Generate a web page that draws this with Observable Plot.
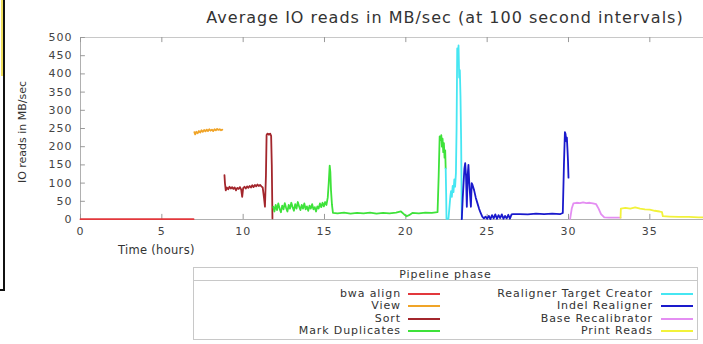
<!DOCTYPE html>
<html><head><meta charset="utf-8">
<script src="https://cdn.jsdelivr.net/npm/d3@7"></script>
<script src="https://cdn.jsdelivr.net/npm/@observablehq/plot@0.6"></script>
<style>
body{margin:0;background:#fff;}
#wrap{position:relative;width:703px;height:344px;overflow:hidden;font-family:"DejaVu Sans",sans-serif;color:#333;background:#fff;}
#title{position:absolute;left:190px;width:510px;top:8px;text-align:center;font-size:16px;letter-spacing:1px;color:#333;white-space:nowrap;}
#plot{position:absolute;left:0;top:28px;}
#ylab{position:absolute;left:22px;top:132px;transform:translate(-50%,-50%) rotate(-90deg);font-size:11px;white-space:nowrap;color:#333;}
#xlab{position:absolute;left:118px;top:243px;font-size:11.5px;letter-spacing:0.3px;white-space:nowrap;color:#333;}
#legend{position:absolute;left:193px;top:267px;width:505px;height:73px;border:1px solid #c8c8c8;box-sizing:border-box;font-size:11px;letter-spacing:0.9px;color:#333;}
#legend .lt{position:absolute;top:0;left:0;width:100%;text-align:center;line-height:13px;}
#legend .sep{position:absolute;top:12px;left:0;width:100%;border-top:1px solid #c8c8c8;}
#legend .lab{position:absolute;width:300px;text-align:right;line-height:12px;white-space:nowrap;}
#legend .sw{position:absolute;width:32px;height:0;border-top:2px solid;}
.art1{position:absolute;left:3px;top:0;width:2px;height:290px;background:#111;}
.art2{position:absolute;left:1px;top:0;width:2px;height:76px;background:#f0e060;}
.art3{position:absolute;left:0;top:289px;width:5px;height:2px;background:#111;}
</style></head><body><div id="wrap">
<div class="art2"></div><div class="art1"></div><div class="art3"></div>
<div id="title">Average IO reads in MB/sec (at 100 second intervals)</div>
<div id="plot"></div>
<div id="ylab">IO reads in MB/sec</div>
<div id="xlab">Time (hours)</div>
<div id="legend"></div>
</div>
<script>
const phases = ["bwa align","View","Sort","Mark Duplicates","Realigner Target Creator","Indel Realigner","Base Recalibrator","Print Reads"];
const phaseColors = ["#e2383c","#f0a428","#a3262c","#3ee23a","#46e6f2","#1a1acc","#e48ef2","#f2f23a"];
const xTicks = [0,5,10,15,20,25,30,35];
const yTicks = [0,50,100,150,200,250,300,350,400,450,500];

const bwaAlign = [[0,1],[1.5,1],[3,1],[4.5,1],[6,1],[6.95,1]];
const view = [[7.0,240],[7.05,234],[7.12,241],[7.2,237],[7.28,243],[7.36,239],[7.44,245],[7.52,241],[7.6,246],[7.68,242],[7.76,247],[7.84,243],[7.92,248],[8.0,244],[8.08,247],[8.16,243],[8.24,248],[8.32,245],[8.4,249],[8.48,246],[8.56,248],[8.64,245],[8.72,247]];
const sort = [[8.85,122],[8.88,100],[8.93,80],[9.0,88],[9.08,83],[9.16,90],[9.24,85],[9.32,89],[9.4,84],[9.48,88],[9.56,80],[9.64,87],[9.72,84],[9.8,89],[9.88,82],[9.94,62],[10.0,86],[10.08,90],[10.16,85],[10.24,91],[10.32,87],[10.4,92],[10.48,88],[10.56,94],[10.64,89],[10.72,95],[10.8,91],[10.88,96],[10.96,92],[11.04,95],[11.12,91],[11.2,88],[11.28,60],[11.34,35],[11.4,120],[11.44,232],[11.5,236],[11.58,233],[11.66,236],[11.72,230],[11.76,150],[11.8,3]];
const markDuplicates = [[11.85,35],[11.92,22],[12.0,40],[12.08,26],[12.16,44],[12.24,30],[12.32,20],[12.4,38],[12.48,28],[12.56,45],[12.64,32],[12.72,22],[12.8,40],[12.88,30],[12.96,46],[13.04,34],[13.12,24],[13.2,42],[13.28,30],[13.36,48],[13.44,36],[13.52,26],[13.6,40],[13.68,30],[13.76,44],[13.84,28],[13.92,36],[14.0,24],[14.08,38],[14.16,30],[14.24,42],[14.32,28],[14.4,34],[14.48,22],[14.56,36],[14.64,30],[14.72,44],[14.8,34],[14.88,46],[14.96,36],[15.04,48],[15.12,40],[15.2,60],[15.26,100],[15.32,148],[15.36,130],[15.4,80],[15.46,40],[15.52,18],[15.8,17],[16.2,19],[16.6,16],[17.0,18],[17.4,17],[17.8,19],[18.2,16],[18.6,18],[19.0,17],[19.4,19],[19.7,22],[19.9,14],[20.05,9],[20.2,12],[20.4,18],[20.8,17],[21.2,19],[21.6,18],[21.95,20],[22.02,120],[22.08,228],[22.14,218],[22.18,232],[22.22,200],[22.26,222],[22.3,185],[22.34,210],[22.38,170],[22.42,190],[22.45,140]];
const realignerTargetCreator = [[22.45,140],[22.48,70],[22.5,2],[22.62,2],[22.74,65],[22.78,78],[22.83,62],[22.88,92],[22.93,75],[22.98,110],[23.03,90],[23.08,128],[23.12,250],[23.16,470],[23.2,430],[23.24,478],[23.28,390],[23.32,410],[23.36,340],[23.4,220],[23.44,2]];
const indelRealigner = [[23.44,1],[23.5,60],[23.6,140],[23.65,155],[23.7,120],[23.75,35],[23.8,120],[23.85,150],[23.9,100],[24.0,35],[24.05,100],[24.1,95],[24.2,80],[24.3,60],[24.4,45],[24.5,30],[24.6,18],[24.7,8],[24.8,3],[24.9,8],[25.0,2],[25.1,10],[25.2,1],[25.3,12],[25.4,3],[25.5,14],[25.6,2],[25.7,12],[25.8,4],[25.9,14],[26.0,2],[26.1,10],[26.2,3],[26.3,13],[26.4,2],[26.5,14],[26.6,15],[27,15],[27.5,14],[28,16],[28.5,15],[29,16],[29.5,15],[29.65,18],[29.72,150],[29.78,240],[29.82,235],[29.86,215],[29.9,225],[29.94,190],[29.97,160],[30.0,115]];
const baseRecalibrator = [[30.1,2],[30.2,30],[30.3,44],[30.5,46],[30.7,45],[30.9,47],[31.1,45],[31.3,46],[31.5,44],[31.7,42],[31.85,30],[32.0,15],[32.2,6],[32.5,5],[33.0,5],[33.2,5]];
const printReads = [[33.2,5],[33.22,30],[33.5,32],[33.8,30],[34.1,33],[34.4,30],[34.7,28],[35.0,27],[35.3,24],[35.6,22],[35.75,20],[35.8,9],[36.2,8],[36.8,7],[37.4,7],[38,6],[38.3,6]];

const series = [bwaAlign, view, sort, markDuplicates, realignerTargetCreator, indelRealigner, baseRecalibrator, printReads];
const rows = series.flatMap((s, i) => s.map(([h, v]) => ({phase: phases[i], h, v})));

const chart = Plot.plot({
  width: 703, height: 234,
  marginLeft: 80, marginRight: 0, marginTop: 9, marginBottom: 43,
  style: {fontFamily: "DejaVu Sans", fontSize: "11px", color: "#444", background: "transparent", letterSpacing: "1px", overflow: "visible"},
  x: {domain: [0, 38.3]},
  y: {domain: [0, 500]},
  color: {domain: phases, range: phaseColors},
  marks: [
    Plot.ruleY([500], {stroke: "#c8c8c8"}),
    Plot.ruleY([0], {stroke: "#b0b0b0"}),
    Plot.ruleX([0], {stroke: "#b0b0b0"}),
    Plot.ruleX(xTicks, {x: d => d, y1: 0, y2: 14, stroke: "#999"}),
    Plot.ruleX(xTicks, {x: d => d, y1: 486, y2: 500, stroke: "#999"}),
    Plot.ruleY(yTicks, {y: d => d, x1: 0, x2: 0.3, stroke: "#999"}),
    Plot.axisX({ticks: xTicks, tickSize: 0, tickPadding: 8, label: null}),
    Plot.axisY({ticks: yTicks, tickSize: 0, tickPadding: 8, label: null}),
    Plot.line(rows, {x: "h", y: "v", z: "phase", stroke: "phase", strokeWidth: 1.8})
  ]
});
document.getElementById("plot").appendChild(chart);

const legend = document.getElementById("legend");
const lt = document.createElement("div"); lt.className = "lt"; lt.textContent = "Pipeline phase"; legend.appendChild(lt);
const sep = document.createElement("div"); sep.className = "sep"; legend.appendChild(sep);
phases.forEach((p, i) => {
  const col = i < 4 ? 0 : 1, row = i % 4;
  const cy = 26 + row * 12.4 - 267 + 267; // row centre within box
  const labRight = col ? 459 : 207;
  const lab = document.createElement("div"); lab.className = "lab";
  lab.style.left = (labRight - 300) + "px"; lab.style.top = (cy - 6) + "px";
  lab.textContent = p; legend.appendChild(lab);
  const sw = document.createElement("div"); sw.className = "sw";
  sw.style.left = (col ? 467 : 214) + "px"; sw.style.top = (cy - 1) + "px";
  sw.style.borderColor = phaseColors[i]; legend.appendChild(sw);
});
</script>
</body></html>
